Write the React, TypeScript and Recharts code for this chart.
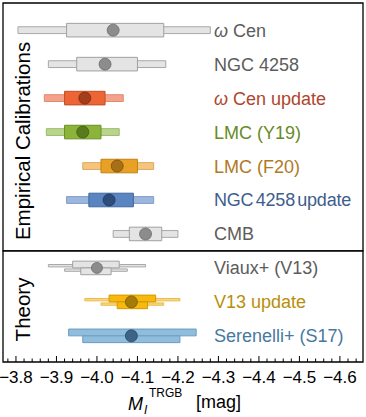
import React from 'react';
import { ComposedChart, XAxis, YAxis, Scatter, ReferenceArea } from 'recharts';

// rows, top to bottom (row index = y value)
const rowLabels = [
  'ω Cen', 'NGC 4258', 'ω Cen update', 'LMC (Y19)', 'LMC (F20)', 'NGC 4258 update', 'CMB',
  'Viaux+ (V13)', 'V13 update', 'Serenelli+ (S17)',
];
const centers = [-4.04, -4.02, -3.97, -3.965, -4.05, -4.03, -4.12, -4.0, -4.085, -4.085];

// empirical calibrations: thick box and thin whisker bar, [lo, hi]
const calBox: [number, number][] = [
  [-3.925, -4.165], [-3.95, -4.1], [-3.92, -4.02], [-3.92, -4.01], [-4.01, -4.1], [-3.98, -4.09], [-4.08, -4.16],
];
const calBar: [number, number][] = [
  [-3.805, -4.28], [-3.88, -4.17], [-3.87, -4.065], [-3.875, -4.055], [-3.965, -4.14], [-3.925, -4.14], [-4.04, -4.2],
];

// theory: upper and lower halves of each row
const thUpperBox: [number, number][] = [[-3.94, -4.055], [-4.03, -4.145], [-3.93, -4.245]];
const thUpperBar: ([number, number] | null)[] = [[-3.88, -4.12], [-3.97, -4.205], null];
const thLowerBox: [number, number][] = [[-3.96, -4.035], [-4.05, -4.125], [-3.965, -4.205]];
const thLowerBar: ([number, number] | null)[] = [[-3.92, -4.075], [-4.01, -4.165], null];

const majorTicks = [-3.8, -3.9, -4.0, -4.1, -4.2, -4.3, -4.4, -4.5, -4.6];
const allTicks = Array.from({ length: 44 }, (_, k) => Math.round((-3.78 - 0.02 * k) * 100) / 100);

const gray = { bar: '#e4e4e4', barStroke: '#a8a8a8', box: '#e4e4e4', boxStroke: '#a0a0a0', dot: '#8c8c8c', dotStroke: '#6c6c6c', text: '#5c5c5c' };
const styles = [
  gray,
  gray,
  { bar: '#f4a289', barStroke: '#e08a70', box: '#ed6534', boxStroke: '#bf4f26', dot: '#a33d1c', dotStroke: '#7a2a10', text: '#b0452b' },
  { bar: '#b9d58c', barStroke: '#9cbc6c', box: '#8cb43a', boxStroke: '#6a9020', dot: '#5a7b1d', dotStroke: '#3f5a10', text: '#688a26' },
  { bar: '#f5c57e', barStroke: '#dba860', box: '#e8a124', boxStroke: '#c08018', dot: '#a86f16', dotStroke: '#7c500c', text: '#b07a1f' },
  { bar: '#9db6dd', barStroke: '#7f9cc8', box: '#5a85c1', boxStroke: '#3f68a0', dot: '#2e4d7a', dotStroke: '#1e3558', text: '#3e5e8c' },
  gray,
  gray,
  { bar: '#fdd57a', barStroke: '#e8bc50', box: '#f9b80d', boxStroke: '#d09a00', dot: '#a67c08', dotStroke: '#7a5a00', text: '#b98e0a' },
  { bar: '#90bddb', barStroke: '#6a9cc4', box: '#90bddb', boxStroke: '#6a9cc4', dot: '#3b6487', dotStroke: '#264863', text: '#4679a0' },
];

const FONT = '"Liberation Sans", Arial, sans-serif';
const LABEL_X = 214;
const fmt = (v: number) => '\u2212' + Math.abs(v).toFixed(1);
const isMajor = (v: number) => majorTicks.some(t => Math.abs(t - v) < 1e-6);

const BottomTick = (props: any) => {
  const { x, y, payload } = props;
  const major = isMajor(payload.value);
  return (
    <g>
      <line x1={x} x2={x} y1={y} y2={y - (major ? 6 : 3.5)} stroke="#000" strokeWidth={1} />
      {major && (
        <text x={x} y={y + 21} textAnchor="middle" fontSize={17} fontFamily={FONT} fill="#000">
          {fmt(payload.value)}
        </text>
      )}
    </g>
  );
};

const TopTick = (props: any) => {
  const { x, y, payload } = props;
  const major = isMajor(payload.value);
  return <line x1={x} x2={x} y1={y} y2={y + (major ? 6 : 3.5)} stroke="#000" strokeWidth={1} />;
};

// dot plus its row label
const RowMark = (p: any) => {
  const i = p.payload.y as number;
  const st = styles[i];
  const label = rowLabels[i];
  const omega = label.startsWith('ω');
  // the NGC 4258 update label is set tighter so it fits inside the frame
  const tight = label.startsWith('NGC') && label.length > 10;
  return (
    <g>
      <circle cx={p.cx} cy={p.cy} r={i === 7 ? 5.5 : 6} fill={st.dot} stroke={st.dotStroke} strokeWidth={0.8} />
      <text
        x={LABEL_X}
        y={p.cy + 6.5}
        fontSize={18}
        fontFamily={FONT}
        fill={st.text}
        wordSpacing={tight ? -2.5 : 0}
        letterSpacing={tight ? -0.2 : 0}
      >
        {omega ? (
          <>
            <tspan fontStyle="italic">ω</tspan>
            <tspan>{label.slice(1)}</tspan>
          </>
        ) : (
          label
        )}
      </text>
    </g>
  );
};

const SideLabel = (props: any) => {
  const { viewBox, text, dy } = props;
  const { x, y, height } = viewBox;
  return (
    <text
      transform={`translate(${x + 27},${y + height / 2 + dy}) rotate(-90)`}
      textAnchor="middle"
      fontSize={20.5}
      fontFamily={FONT}
      fill="#000"
    >
      {text}
    </text>
  );
};

const AxisTitle = () => (
  <text fontFamily={FONT} fill="#000">
    <tspan x={128} y={410} fontSize={18} fontStyle="italic">M</tspan>
    <tspan x={144} y={414} fontSize={12} fontStyle="italic">I</tspan>
    <tspan x={149} y={397} fontSize={12}>TRGB</tspan>
    <tspan x={196} y={408} fontSize={18}>[mag]</tspan>
  </text>
);

const BAR = 0.1;
const BOX = 0.2;

export default function App() {
  const dots = centers.map((c, i) => ({ x: c, y: i }));

  const areas: React.ReactNode[] = [];
  calBar.forEach(([lo, hi], i) => {
    const st = styles[i];
    areas.push(
      <ReferenceArea key={`cb${i}`} x1={lo} x2={hi} y1={i - BAR} y2={i + BAR} fill={st.bar} fillOpacity={1} stroke={st.barStroke} strokeWidth={1} ifOverflow="visible" />
    );
    areas.push(
      <ReferenceArea key={`cx${i}`} x1={calBox[i][0]} x2={calBox[i][1]} y1={i - BOX} y2={i + BOX} fill={st.box} fillOpacity={1} stroke={st.boxStroke} strokeWidth={1} ifOverflow="visible" />
    );
  });
  thUpperBox.forEach((ub, j) => {
    const i = 7 + j;
    const st = styles[i];
    const ubar = thUpperBar[j];
    const lbar = thLowerBar[j];
    if (ubar)
      areas.push(
        <ReferenceArea key={`tub${j}`} x1={ubar[0]} x2={ubar[1]} y1={i - 0.1} y2={i - 0.03} fill={st.bar} fillOpacity={1} stroke={st.barStroke} strokeWidth={1} ifOverflow="visible" />
      );
    if (lbar)
      areas.push(
        <ReferenceArea key={`tlb${j}`} x1={lbar[0]} x2={lbar[1]} y1={i + 0.03} y2={i + 0.1} fill={st.bar} fillOpacity={1} stroke={st.barStroke} strokeWidth={1} ifOverflow="visible" />
      );
    areas.push(
      <ReferenceArea key={`tux${j}`} x1={ub[0]} x2={ub[1]} y1={i - BOX} y2={i} fill={st.box} fillOpacity={1} stroke={st.boxStroke} strokeWidth={1} ifOverflow="visible" />
    );
    areas.push(
      <ReferenceArea key={`tlx${j}`} x1={thLowerBox[j][0]} x2={thLowerBox[j][1]} y1={i} y2={i + BOX} fill={st.box} fillOpacity={1} stroke={st.boxStroke} strokeWidth={1} ifOverflow="visible" />
    );
  });

  return (
    <div style={{ position: 'absolute', left: 0, top: 0, background: '#fff' }}>
      <ComposedChart width={366} height={417} data={dots} margin={{ top: 3, right: 3, bottom: 0, left: 3 }}>
        <XAxis
          dataKey="x"
          type="number"
          domain={[-4.657, -3.768]}
          reversed
          allowDataOverflow
          ticks={allTicks}
          interval={0}
          height={55}
          tickSize={0}
          tickMargin={0}
          axisLine={false}
          tickLine={false}
          tick={(p: any) => <BottomTick {...p} />}
          label={{ content: () => <AxisTitle /> }}
        />
        <XAxis
          xAxisId="top"
          orientation="top"
          dataKey="x"
          type="number"
          domain={[-4.657, -3.768]}
          reversed
          allowDataOverflow
          ticks={allTicks}
          interval={0}
          height={0}
          tickSize={0}
          tickMargin={0}
          axisLine={false}
          tickLine={false}
          tick={(p: any) => <TopTick {...p} />}
        />
        <YAxis dataKey="y" type="number" domain={[-0.8, 9.77]} reversed allowDataOverflow hide />
        <ReferenceArea
          y1={-0.8}
          y2={6.5}
          fill="none"
          stroke="#000"
          strokeWidth={1.3}
          ifOverflow="visible"
          label={<SideLabel text="Empirical Calibrations" dy={14} />}
        />
        <ReferenceArea
          y1={6.5}
          y2={9.77}
          fill="none"
          stroke="#000"
          strokeWidth={1.3}
          ifOverflow="visible"
          label={<SideLabel text="Theory" dy={3} />}
        />
        {areas}
        <Scatter dataKey="y" isAnimationActive={false} shape={(p: any) => <RowMark {...p} />} />
      </ComposedChart>
    </div>
  );
}
